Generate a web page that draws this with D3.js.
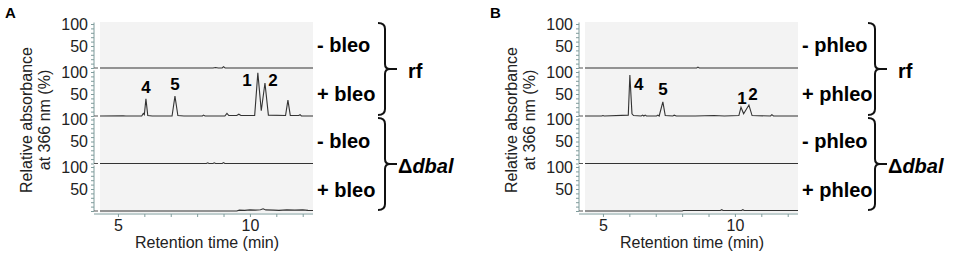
<!DOCTYPE html>
<html>
<head>
<meta charset="utf-8">
<script src="https://cdn.jsdelivr.net/npm/d3@7"></script>
<style>
  body { margin: 0; background: #fff; }
  svg text { font-family: "Liberation Sans", Arial, sans-serif; }
</style>
</head>
<body>
<div id="chart"></div>
<script>
// retention time window and ticks
const timeDomain = [4.32, 12.39];
const timeMinorTicks = [5, 6, 7, 8, 9, 10, 11, 12];
const timeLabelTicks = [5, 10];
const absMinorTicks = [0, 10, 20, 30, 40, 50, 60, 70, 80, 90, 100];
const absLabelTicks = [50, 100];

const panelLetters = ["A", "B"];
const groupNames = ["rf", "dbal"];

// A: bleomycin, traces top to bottom: rf -, rf +, dbal -, dbal +
const bleoLabels = ["- bleo", "+ bleo", "- bleo", "+ bleo"];
const bleoRfMinus = [[4.32, 0], [8.6, 0], [8.7, 1], [8.8, 0], [8.95, 0], [9.0, 3], [9.06, 0], [12.39, 0]];
const bleoRfPlus = [[4.32, 0], [5.2, 0.5], [5.3, 0], [5.9, 0], [5.96, 6], [6.0, 3], [6.06, 39], [6.13, 1], [6.3, 0],
  [7.05, 0], [7.16, 45], [7.27, 1], [7.5, 0], [8.2, 0], [8.24, 2], [8.3, 0], [9.05, 0], [9.13, 6], [9.2, 1],
  [9.5, 1], [9.58, 4], [9.66, 1], [10.18, 1], [10.3, 98], [10.43, 12], [10.57, 75], [10.7, 2], [11.35, 1],
  [11.44, 36], [11.53, 1], [11.85, 1], [11.9, 3], [11.95, 0], [12.39, 0]];
const bleoDbalMinus = [[4.32, 0], [8.35, 0], [8.4, 1.5], [8.45, 0], [8.6, 0], [8.65, 1.5], [8.7, 0], [8.95, 0],
  [9.0, 2], [9.05, 0], [12.39, 0]];
const bleoDbalPlus = [[4.32, 0], [9.5, 0], [9.6, 2], [9.8, 1.5], [10.0, 2.5], [10.2, 2], [10.4, 3], [10.5, 5],
  [10.6, 2.5], [10.9, 2], [11.1, 1.5], [11.4, 2.5], [11.7, 2], [12.0, 2.5], [12.2, 1.5], [12.39, 1]];
const bleoPeakLabels = [["4", 6.06, 52], ["5", 7.16, 59], ["1", 9.89, 68], ["2", 10.87, 68]];

// B: phleomycin
const phleoLabels = ["- phleo", "+ phleo", "- phleo", "+ phleo"];
const phleoRfMinus = [[4.32, 0], [8.55, 0], [8.6, 2], [8.65, 0], [12.39, 0]];
const phleoRfPlus = [[4.32, 0], [4.95, 0], [5.0, 1], [5.05, 0], [5.96, 2], [6.02, 93], [6.1, 5], [6.16, 1],
  [6.45, 0], [6.5, 2], [6.55, 0], [6.6, 2], [6.65, 0], [7.03, 0], [7.08, 2], [7.13, 0], [7.27, 32], [7.36, 1],
  [7.65, 0], [7.7, 2], [7.78, 0], [8.5, 0], [9.2, 1], [9.6, 0], [10.15, 1], [10.23, 20], [10.33, 5],
  [10.53, 25], [10.65, 1], [11.35, 0], [11.4, 3], [11.46, 0], [12.39, 0]];
const phleoDbalMinus = [[4.32, 0], [12.39, 0]];
const phleoDbalPlus = [[4.32, 0], [8.0, 0], [8.05, 1], [9.45, 1], [9.5, 3], [9.55, 1], [10.25, 1], [10.3, 3],
  [10.35, 1], [12.39, 1]];
const phleoPeakLabels = [["4", 6.36, 59], ["5", 7.27, 48], ["1", 10.27, 27], ["2", 10.68, 36]];

const svg = d3.select("#chart").append("svg")
  .attr("width", 957)
  .attr("height", 254);

const axisColor = "#7f9c9c";
const baselines = [68, 116, 163.5, 211];
const trackHeight = 44;

function drawPanel(offsetX, letter, labels, traces, peakLabels, braceX) {
  const g = svg.append("g").attr("transform", `translate(${offsetX},0)`);

  const x = d3.scaleLinear().domain(timeDomain).range([100, 313]);

  g.append("rect")
    .attr("x", 100).attr("y", 22)
    .attr("width", 213).attr("height", 191)
    .attr("fill", "#f3f3f3");

  g.append("text")
    .attr("x", 5).attr("y", 18)
    .attr("font-size", 15).attr("font-weight", "bold")
    .text(letter);

  // one small y axis per trace
  baselines.forEach((base, i) => {
    const y = d3.scaleLinear().domain([0, 100]).range([base, base - trackHeight]);

    const minor = g.append("g")
      .attr("transform", "translate(94,0)")
      .call(d3.axisLeft(y).tickValues(absMinorTicks).tickSize(3).tickSizeOuter(0).tickFormat(""));
    minor.select(".domain").attr("stroke", axisColor).attr("d", `M0,${base}V${base - trackHeight - 1.5}`);
    minor.selectAll(".tick line").attr("stroke", axisColor);
    g.append("line")
      .attr("x1", 94).attr("x2", 98)
      .attr("y1", base).attr("y2", base)
      .attr("stroke", "#555");

    const lab = g.append("g")
      .attr("transform", "translate(94,0)")
      .call(d3.axisLeft(y).tickValues(absLabelTicks).tickSize(0).tickPadding(6));
    lab.select(".domain").remove();
    lab.selectAll("text")
      .attr("font-size", 16)
      .attr("fill", "#222")
      .style("font-family", "'Liberation Sans', Arial, sans-serif");

    const line = d3.line().x(d => x(d[0])).y(d => y(d[1]));
    g.append("path")
      .datum(traces[i])
      .attr("d", line)
      .attr("fill", "none")
      .attr("stroke", "#333")
      .attr("stroke-width", 1.1);

    g.append("text")
      .attr("x", 317)
      .attr("y", [52, 101, 148, 197][i])
      .attr("font-size", 20).attr("font-weight", "bold")
      .text(labels[i]);

    if (i === 1) {
      g.selectAll(".peak")
        .data(peakLabels)
        .join("text")
        .attr("class", "peak")
        .attr("x", d => x(d[1]))
        .attr("y", d => y(d[2]))
        .attr("text-anchor", "middle")
        .attr("font-size", 17).attr("font-weight", "bold")
        .text(d => d[0]);
    }
  });

  // x axis
  const xa = g.append("g")
    .attr("transform", "translate(0,214)")
    .call(d3.axisBottom(x).tickValues(timeMinorTicks).tickSize(3).tickSizeOuter(0).tickFormat(""));
  xa.select(".domain").attr("stroke", axisColor).attr("d", "M94,0H313");
  xa.selectAll(".tick line").attr("stroke", axisColor);

  const xl = g.append("g")
    .attr("transform", "translate(0,214)")
    .call(d3.axisBottom(x).tickValues(timeLabelTicks).tickSize(0).tickPadding(6));
  xl.select(".domain").remove();
  xl.selectAll("text")
    .attr("font-size", 16)
    .attr("fill", "#222")
    .style("font-family", "'Liberation Sans', Arial, sans-serif");

  g.append("text")
    .attr("x", 207).attr("y", 248)
    .attr("text-anchor", "middle")
    .attr("font-size", 16).attr("fill", "#222")
    .text("Retention time (min)");

  g.append("text")
    .attr("transform", "translate(32,120) rotate(-90)")
    .attr("text-anchor", "middle")
    .attr("font-size", 16).attr("fill", "#222")
    .text("Relative absorbance");
  g.append("text")
    .attr("transform", "translate(50,120) rotate(-90)")
    .attr("text-anchor", "middle")
    .attr("font-size", 16).attr("fill", "#222")
    .text("at 366 nm (%)");

  // braces
  const braces = [[23, 115], [118, 210]];
  braces.forEach((b, i) => {
    const [y0, y1] = b;
    const ym = (y0 + y1) / 2;
    const bx = braceX;
    const p = `M${bx},${y0} Q${bx + 7},${y0} ${bx + 7},${y0 + 6} L${bx + 7},${ym - 5} Q${bx + 7},${ym} ${bx + 12},${ym}` +
      ` Q${bx + 7},${ym} ${bx + 7},${ym + 5} L${bx + 7},${y1 - 6} Q${bx + 7},${y1} ${bx},${y1}`;
    g.append("path")
      .attr("d", p)
      .attr("fill", "none")
      .attr("stroke", "#111")
      .attr("stroke-width", 2);
    g.append("line")
      .attr("x1", bx + 12).attr("x2", bx + 19)
      .attr("y1", ym).attr("y2", ym)
      .attr("stroke", "#111").attr("stroke-width", 2);

    if (i === 0) {
      g.append("text")
        .attr("x", bx + 30).attr("y", ym + 9)
        .attr("font-size", 20).attr("font-weight", "bold")
        .text(groupNames[0]);
    } else {
      const t = g.append("text")
        .attr("x", bx + 20).attr("y", ym + 9)
        .attr("font-size", 20).attr("font-weight", "bold");
      t.append("tspan").text("Δ");
      t.append("tspan").attr("font-style", "italic").text(groupNames[1]);
    }
  });
}

drawPanel(0, panelLetters[0], bleoLabels, [bleoRfMinus, bleoRfPlus, bleoDbalMinus, bleoDbalPlus], bleoPeakLabels, 378);
drawPanel(485, panelLetters[1], phleoLabels, [phleoRfMinus, phleoRfPlus, phleoDbalMinus, phleoDbalPlus], phleoPeakLabels, 383);
</script>
</body>
</html>
